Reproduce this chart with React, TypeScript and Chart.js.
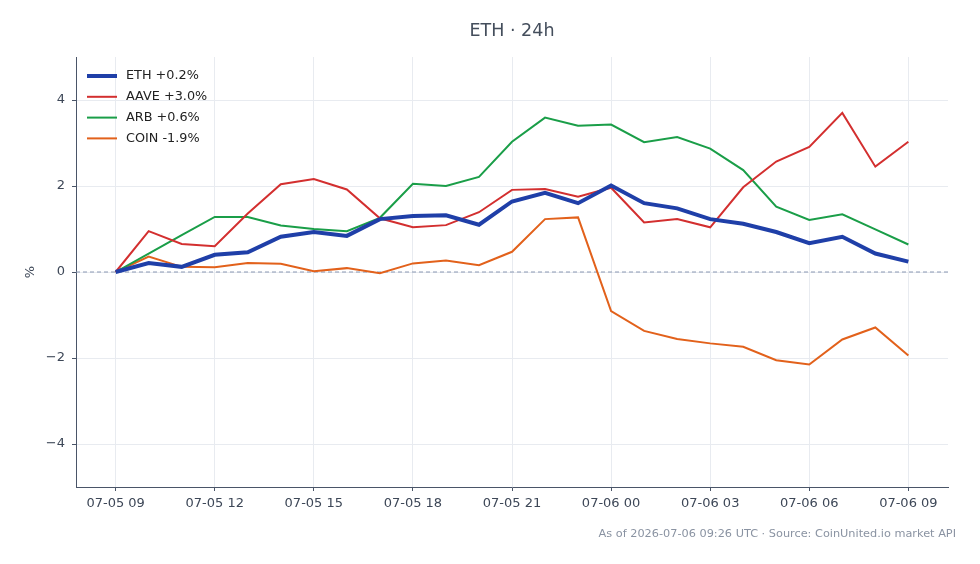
import React, { useEffect, useRef } from "react";
import { Chart, registerables } from "chart.js";

Chart.register(...registerables);

const hours: number[] = [0,1,2,3,4,5,6,7,8,9,10,11,12,13,14,15,16,17,18,19,20,21,22,23,24];
const tickHours: number[] = [0,3,6,9,12,15,18,21,24];
const tickLabels: string[] = ["07-05 09","07-05 12","07-05 15","07-05 18","07-05 21","07-06 00","07-06 03","07-06 06","07-06 09"];
const yTicks: number[] = [-4,-2,0,2,4];

const ethValues: number[] = [0,0.21,0.12,0.4,0.46,0.82,0.93,0.84,1.23,1.3,1.32,1.1,1.64,1.84,1.6,2.01,1.6,1.48,1.23,1.12,0.93,0.67,0.82,0.43,0.24];
const aaveValues: number[] = [0,0.95,0.65,0.6,1.36,2.04,2.16,1.92,1.25,1.04,1.09,1.39,1.91,1.93,1.75,1.96,1.15,1.23,1.04,1.97,2.57,2.91,3.7,2.45,3.03];
const arbValues: number[] = [0,0.43,0.86,1.28,1.28,1.08,1.0,0.95,1.26,2.05,2.0,2.21,3.03,3.59,3.4,3.43,3.02,3.14,2.87,2.37,1.52,1.21,1.34,0.99,0.64];
const coinValues: number[] = [0,0.36,0.12,0.11,0.21,0.19,0.02,0.09,-0.03,0.2,0.27,0.16,0.47,1.23,1.27,-0.91,-1.37,-1.56,-1.66,-1.74,-2.05,-2.15,-1.57,-1.29,-1.94];

const seriesNames: string[] = ["ETH +0.2%","AAVE +3.0%","ARB +0.6%","COIN -1.9%"];
const seriesColors: string[] = ["#1f3fa8","#d32f2f","#1a9e48","#e2611b"];
const seriesWidths: number[] = [4,2,2,2];

const titleText = "ETH · 24h";
const yTitle = "%";
const footerText = "As of 2026-07-06 09:26 UTC · Source: CoinUnited.io market API";
const FONT = "'DejaVu Sans', sans-serif";

export default function App() {
  const ref = useRef<HTMLCanvasElement | null>(null);
  useEffect(() => {
    document.body.style.margin = "0";
    const canvas = ref.current!;
    const all = [ethValues, aaveValues, arbValues, coinValues];
    const datasets = all.map((vals, i) => ({
      label: seriesNames[i],
      data: hours.map((h, j) => ({ x: h, y: vals[j] })),
      borderColor: seriesColors[i],
      backgroundColor: seriesColors[i],
      borderWidth: seriesWidths[i],
      pointRadius: 0,
      tension: 0,
      order: i,
    }));

    const overlay = {
      id: "overlay",
      beforeDatasetsDraw(chart: any) {
        const { ctx, chartArea, scales } = chart;
        const y0 = scales.y.getPixelForValue(0);
        ctx.save();
        ctx.strokeStyle = "#8a98b2";
        ctx.lineWidth = 1;
        ctx.setLineDash([4, 3]);
        ctx.beginPath();
        ctx.moveTo(chartArea.left, y0);
        ctx.lineTo(chartArea.right, y0);
        ctx.stroke();
        ctx.restore();
      },
      afterDraw(chart: any) {
        const { ctx, chartArea, scales } = chart;
        ctx.save();
        // title
        ctx.fillStyle = "#444e5c";
        ctx.font = `17.5px ${FONT}`;
        ctx.textAlign = "center";
        ctx.textBaseline = "middle";
        ctx.fillText(titleText, (chartArea.left + chartArea.right) / 2, 31);
        // footer
        ctx.fillStyle = "#8a93a2";
        ctx.font = `11.3px ${FONT}`;
        ctx.textAlign = "right";
        ctx.fillText(footerText, 956, 534);
        // y title
        ctx.save();
        ctx.translate(31, scales.y.getPixelForValue(0));
        ctx.rotate(-Math.PI / 2);
        ctx.textAlign = "center";
        ctx.fillStyle = "#3d4757";
        ctx.font = `13px ${FONT}`;
        ctx.fillText(yTitle, 0, 0);
        ctx.restore();
        // legend
        const lx = chartArea.left + 11;
        let ly = 76;
        ctx.textAlign = "left";
        ctx.font = `12.8px ${FONT}`;
        chart.data.datasets.forEach((ds: any) => {
          ctx.strokeStyle = ds.borderColor;
          ctx.lineWidth = ds.borderWidth;
          ctx.beginPath();
          ctx.moveTo(lx, ly);
          ctx.lineTo(lx + 30, ly);
          ctx.stroke();
          ctx.fillStyle = "#222";
          ctx.fillText(ds.label, lx + 39, ly);
          ly += 20.8;
        });
        ctx.restore();
      },
    };

    const chart = new Chart(canvas, {
      type: "line",
      data: { datasets },
      options: {
        animation: false,
        responsive: false,
        maintainAspectRatio: false,
        layout: { padding: { top: 57, right: 32, bottom: 47, left: 0 } },
        plugins: { legend: { display: false }, tooltip: { enabled: false }, title: { display: false } },
        scales: {
          x: {
            type: "linear",
            min: -1.2,
            max: 25.2,
            afterBuildTicks: (s: any) => { s.ticks = tickHours.map((v) => ({ value: v })); },
            afterFit: (s: any) => { s.height = 30; },
            ticks: {
              autoSkip: false,
              maxRotation: 0,
              padding: 5,
              color: "#3d4757",
              font: { family: FONT, size: 13 },
              callback: (v: any) => { const i = tickHours.indexOf(v); return i >= 0 ? tickLabels[i] : ""; },
            },
            grid: { color: "#e8ebf0", lineWidth: 1, tickLength: 4, tickColor: "#4a5568" },
            border: { color: "#4a5568", width: 1 },
          },
          y: {
            type: "linear",
            min: -5,
            max: 5,
            afterBuildTicks: (s: any) => { s.ticks = yTicks.map((v) => ({ value: v })); },
            afterFit: (s: any) => { s.width = 76; },
            ticks: {
              padding: 7,
              color: "#3d4757",
              font: { family: FONT, size: 13 },
              callback: (v: any) => (v < 0 ? "\u2212" + Math.abs(v) : String(v)),
            },
            grid: { color: "#e8ebf0", lineWidth: 1, tickLength: 4, tickColor: "#4a5568" },
            border: { color: "#4a5568", width: 1 },
          },
        },
      },
      plugins: [overlay],
    } as any);
    return () => chart.destroy();
  }, []);
  return <canvas ref={ref} width={980} height={564} style={{ display: "block", width: 980, height: 564 }} />;
}
